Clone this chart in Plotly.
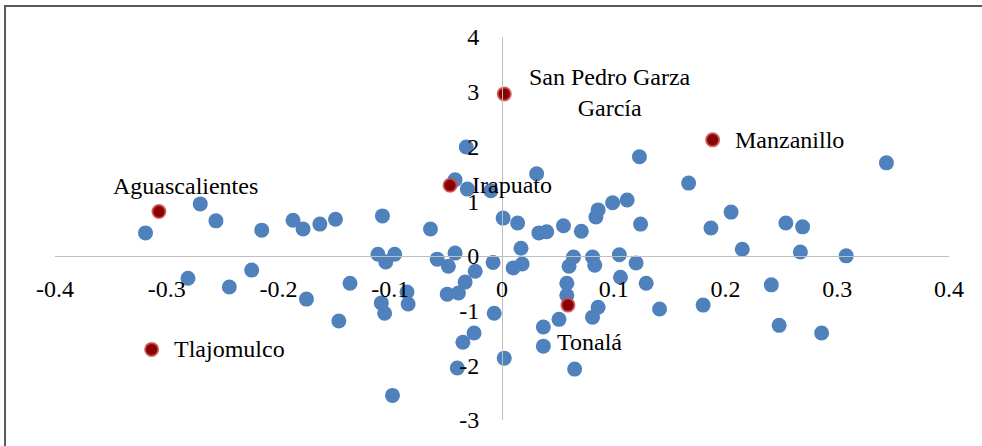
import plotly.graph_objects as go

# Blue points (unlabelled municipalities)
x_blue = [-0.319, -0.270, -0.256, -0.215, -0.187, -0.178, -0.163, -0.149, -0.281, -0.244,
          -0.224, -0.175, -0.146, -0.032, -0.042, -0.031, -0.010, -0.107, -0.064, 0.001,
          -0.111, -0.104, -0.096, -0.058, -0.048, -0.042, -0.024, -0.008, -0.136, -0.085,
          -0.084, -0.108, -0.105, -0.049, -0.039, -0.033, -0.007, -0.025, -0.035, -0.040,
          -0.098, 0.002, 0.031, 0.014, 0.033, 0.040, 0.055, 0.071, 0.084, 0.086,
          0.099, 0.112, 0.123, 0.124, 0.017, 0.010, 0.018, 0.064, 0.060, 0.081,
          0.083, 0.105, 0.120, 0.106, 0.129, 0.058, 0.058, 0.086, 0.081, 0.051,
          0.037, 0.037, 0.065, 0.141, 0.167, 0.344, 0.205, 0.187, 0.254, 0.269,
          0.215, 0.267, 0.308, 0.241, 0.180, 0.248, 0.286]
y_blue = [0.42, 0.95, 0.64, 0.47, 0.65, 0.49, 0.58, 0.67, -0.41, -0.57,
          -0.26, -0.79, -1.19, 1.99, 1.39, 1.22, 1.19, 0.73, 0.49, 0.69,
          0.03, -0.11, 0.03, -0.06, -0.19, 0.05, -0.28, -0.12, -0.50, -0.66,
          -0.88, -0.86, -1.05, -0.70, -0.68, -0.48, -1.05, -1.41, -1.58, -2.05,
          -2.55, -1.87, 1.50, 0.60, 0.42, 0.44, 0.55, 0.45, 0.71, 0.84,
          0.97, 1.02, 1.81, 0.58, 0.14, -0.22, -0.15, -0.02, -0.19, -0.02,
          -0.17, 0.02, -0.13, -0.39, -0.50, -0.50, -0.72, -0.94, -1.12, -1.16,
          -1.30, -1.65, -2.07, -0.97, 1.33, 1.70, 0.80, 0.51, 0.60, 0.53,
          0.12, 0.07, 0.00, -0.53, -0.90, -1.27, -1.41]

# Highlighted municipalities
names = ["Aguascalientes", "San Pedro Garza<br>García", "Manzanillo", "Irapuato", "Tlajomulco", "Tonalá"]
x_red = [-0.307, 0.002, 0.1885, -0.0465, -0.3135, 0.059]
y_red = [0.81, 2.96, 2.12, 1.29, -1.71, -0.90]

# label offsets (pixels) and anchors
label_dx = [27, 106, 20, 20, 20, -13]
label_dy = [26, 1, 0, 0, 0, -37]
label_anchor = ["center", "center", "left", "left", "left", "left"]

x_ticks = [-0.4, -0.3, -0.2, -0.1, 0, 0.1, 0.2, 0.3, 0.4]
x_ticktext = ["-0.4", "-0.3", "-0.2", "-0.1", "0", "0.1", "0.2", "0.3", "0.4"]
y_ticks = [-3, -2, -1, 0, 1, 2, 3, 4]
y_ticktext = ["-3", "-2", "-1", "0", "1", "2", "3", "4"]

FONT = "Liberation Serif, Times New Roman, serif"

fig = go.Figure()
fig.add_trace(go.Scatter(x=x_blue, y=y_blue, mode="markers",
                         marker=dict(size=15, color="#4F81BD", line=dict(width=0)),
                         hoverinfo="skip", showlegend=False))
fig.add_trace(go.Scatter(x=x_red, y=y_red, mode="markers",
                         marker=dict(size=13, color="#8B0000",
                                     line=dict(width=2, color="rgba(200,80,80,0.85)")),
                         hoverinfo="skip", showlegend=False))

for n, xv, yv, dx, dy, anc in zip(names, x_red, y_red, label_dx, label_dy, label_anchor):
    fig.add_annotation(x=xv, y=yv, text=n, showarrow=False, xanchor=anc, yanchor="middle",
                       xshift=dx, yshift=dy, align="center",
                       font=dict(family=FONT, size=24, color="black"))

fig.add_shape(type="rect", xref="paper", yref="paper",
              x0=-0.0559, x1=1.1, y0=-0.2, y1=1.081,
              line=dict(color="#595959", width=2), fillcolor="rgba(0,0,0,0)")

fig.update_layout(
    width=982, height=446,
    margin=dict(l=55, r=33, t=37, b=26),
    paper_bgcolor="white", plot_bgcolor="white",
    font=dict(family=FONT, size=24, color="black"),
    xaxis=dict(range=[-0.4, 0.4], tickvals=x_ticks, ticktext=x_ticktext,
               showgrid=False, zeroline=False, showline=True, linecolor="#BFBFBF", linewidth=1,
               anchor="free", position=3/7, ticks="", ticklabelstandoff=11,
               tickfont=dict(family=FONT, size=24, color="black")),
    yaxis=dict(range=[-3, 4], tickvals=y_ticks, ticktext=y_ticktext,
               showgrid=False, zeroline=False, showline=True, linecolor="#BFBFBF", linewidth=1,
               anchor="free", position=0.5, ticks="", ticklabelstandoff=18,
               tickfont=dict(family=FONT, size=24, color="black")),
)

fig.write_html("out.html", config={"displayModeBar": False},
               post_script="document.body.style.margin='0';document.body.style.overflow='hidden';")
